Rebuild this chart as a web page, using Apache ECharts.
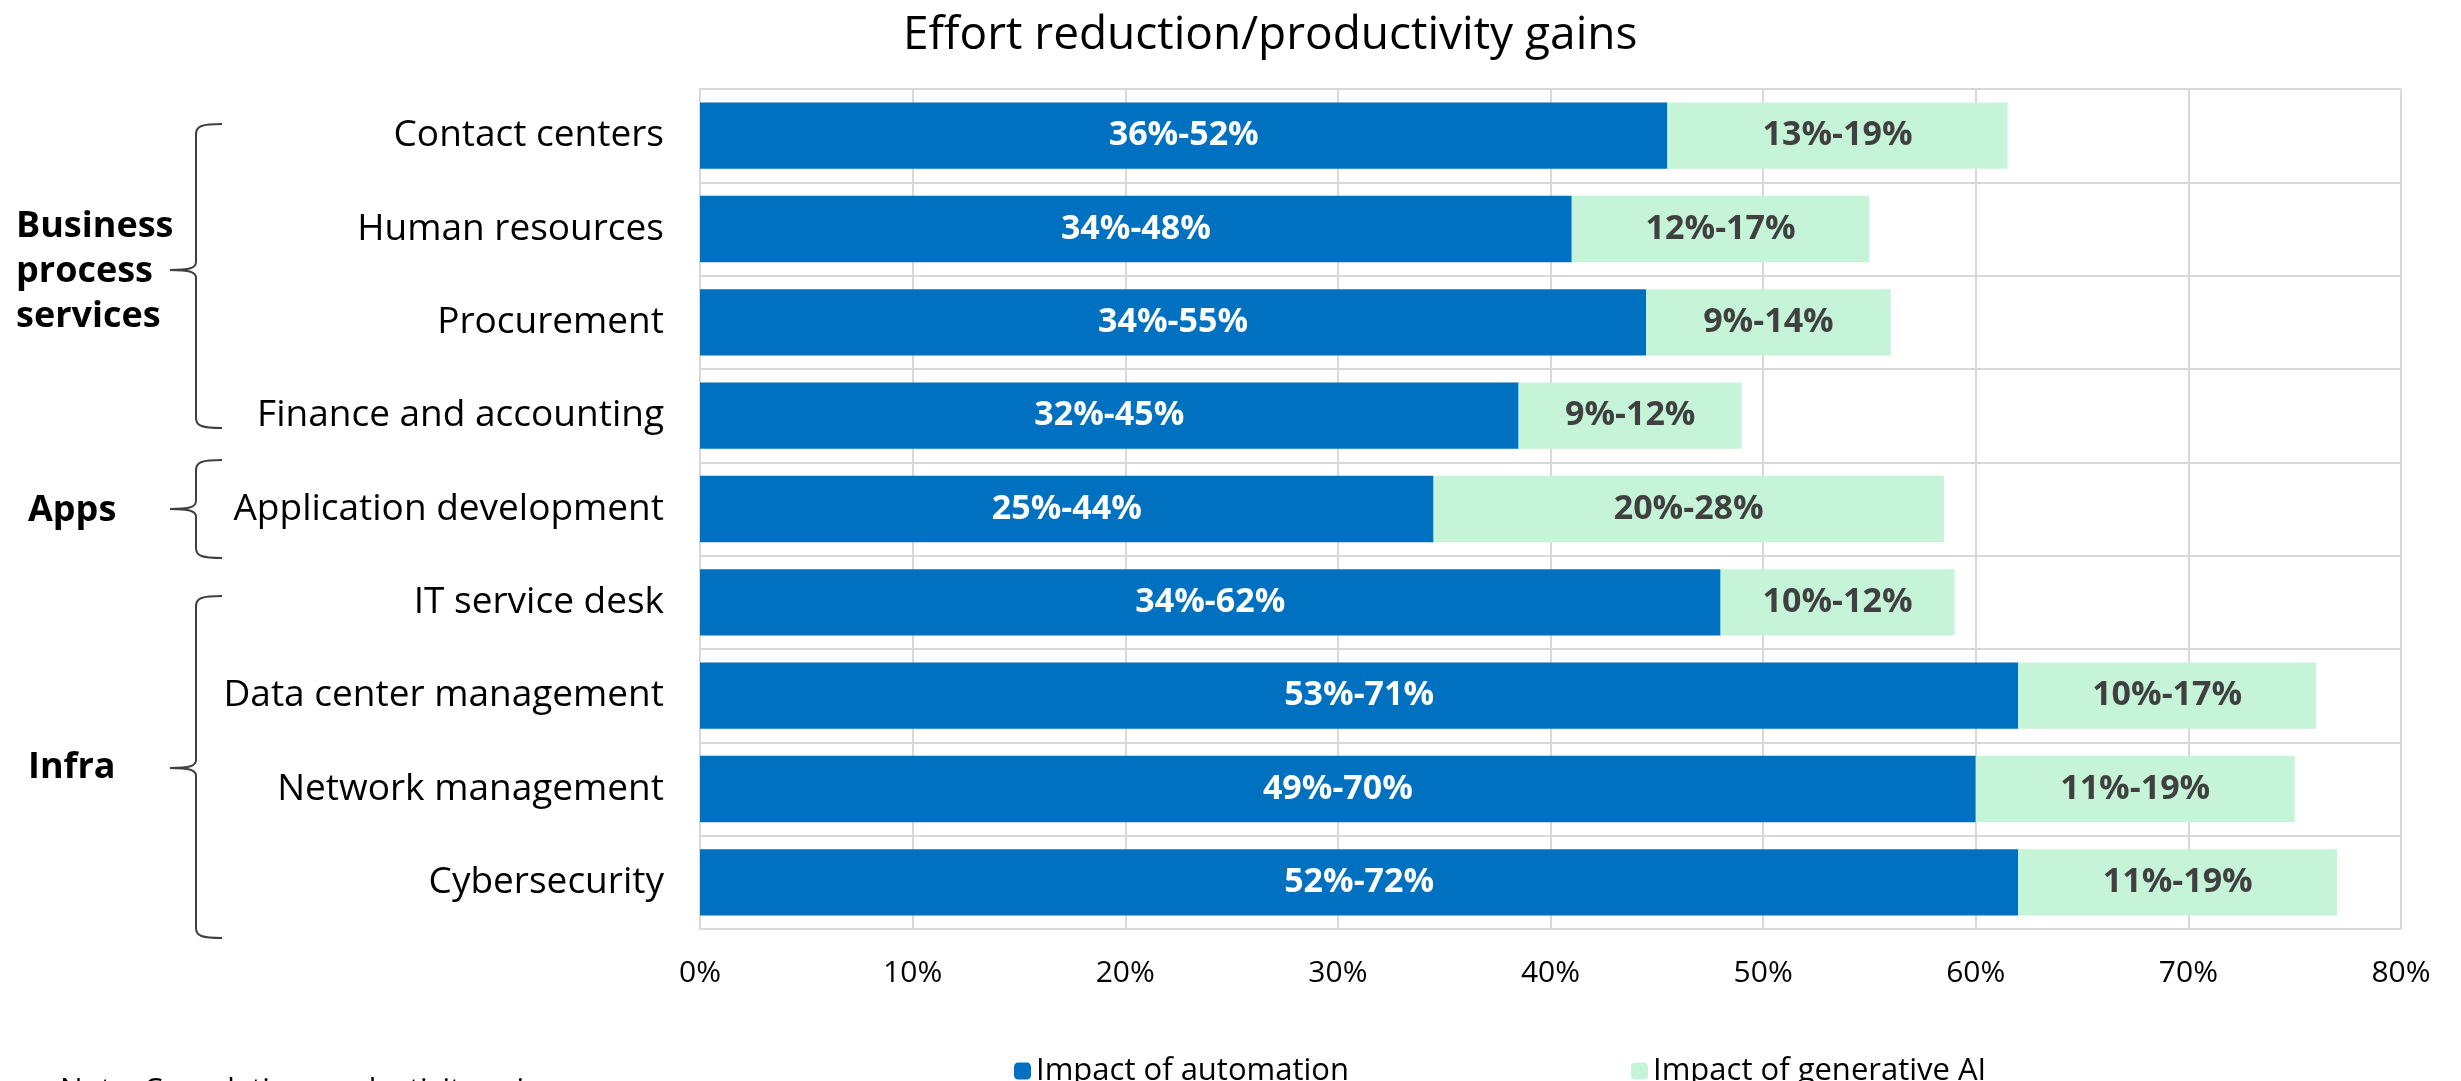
<!DOCTYPE html>
<html>
<head>
<meta charset="utf-8">
<script src="https://cdn.jsdelivr.net/npm/echarts@6/dist/echarts.min.js"></script>
<style>
html,body{margin:0;padding:0;background:#fff;}
#chart{width:2461px;height:1081px;}
</style>
</head>
<body>
<div id="chart"></div>
<script>
const titleText = 'Effort reduction/productivity gains';
const categories = ['Contact centers','Human resources','Procurement','Finance and accounting','Application development','IT service desk','Data center management','Network management','Cybersecurity'];
const automation = [45.5, 41, 44.5, 38.5, 34.5, 48, 62, 60, 62];
const genAI = [16, 14, 11.5, 10.5, 24, 11, 14, 15, 15];
const automationLabels = ['36%-52%','34%-48%','34%-55%','32%-45%','25%-44%','34%-62%','53%-71%','49%-70%','52%-72%'];
const genAILabels = ['13%-19%','12%-17%','9%-14%','9%-12%','20%-28%','10%-12%','10%-17%','11%-19%','11%-19%'];
const seriesNames = ['Impact of automation','Impact of generative AI'];
const groupNames = ['Business\nprocess\nservices','Apps','Infra'];
const noteText = 'Note: Cumulative productivity gains';

const FONT = '"Open Sans", "Noto Sans", sans-serif';
const BLUE = '#0070C0';
const GREEN = '#C6F4D8';
const GRID = '#D9D9D9';
const BRACE = '#404040';

const chart = echarts.init(document.getElementById('chart'), null, {renderer:'canvas'});

function brace(top, bottom, tip) {
  const xv = 196, xe = 222, xt = 170;
  const st = {stroke: BRACE, lineWidth: 2, fill: null};
  return [
    {type: 'bezierCurve', shape: {x1: xe, y1: top, x2: xv, y2: top + 10, cpx1: xv + 6, cpy1: top, cpx2: xv, cpy2: top + 2}, style: st},
    {type: 'line', shape: {x1: xv, y1: top + 10, x2: xv, y2: tip - 8}, style: st},
    {type: 'bezierCurve', shape: {x1: xv, y1: tip - 8, x2: xt, y2: tip, cpx1: xv, cpy1: tip - 2, cpx2: xv - 6, cpy2: tip}, style: st},
    {type: 'bezierCurve', shape: {x1: xt, y1: tip, x2: xv, y2: tip + 8, cpx1: xv - 6, cpy1: tip, cpx2: xv, cpy2: tip + 2}, style: st},
    {type: 'line', shape: {x1: xv, y1: tip + 8, x2: xv, y2: bottom - 10}, style: st},
    {type: 'bezierCurve', shape: {x1: xv, y1: bottom - 10, x2: xe, y2: bottom, cpx1: xv, cpy1: bottom - 2, cpx2: xv + 6, cpy2: bottom}, style: st}
  ];
}

const graphics = []
  .concat(brace(124, 428, 270))
  .concat(brace(460, 558, 509))
  .concat(brace(596, 938, 768))
  .concat([
    {type: 'text', left: 16, top: 204, style: {text: groupNames[0], font: 'bold 36px ' + FONT, fill: '#000', lineHeight: 45}},
    {type: 'text', left: 28, top: 493, style: {text: groupNames[1], font: 'bold 36px ' + FONT, fill: '#000'}},
    {type: 'text', left: 28, top: 750, style: {text: groupNames[2], font: 'bold 36px ' + FONT, fill: '#000'}},
    {type: 'text', left: 60, top: 1075, style: {text: noteText, font: '30px ' + FONT, fill: '#000'}}
  ]);

const option = {
  backgroundColor: '#fff',
  animation: false,
  title: {
    text: titleText,
    left: 898,
    top: 8,
    textStyle: {fontFamily: FONT, fontSize: 46, fontWeight: 'normal', color: '#000'}
  },
  legend: [
    {
      data: [seriesNames[0]], left: 1009, top: 1050,
      itemWidth: 17, itemHeight: 17, itemGap: 0,
      textStyle: {fontFamily: FONT, fontSize: 31, color: '#000', lineHeight: 32}
    },
    {
      data: [seriesNames[1]], left: 1626, top: 1050,
      itemWidth: 17, itemHeight: 17, itemGap: 0,
      textStyle: {fontFamily: FONT, fontSize: 31, color: '#000', lineHeight: 32}
    }
  ],
  grid: {left: 700, right: 60, top: 89, bottom: 152, containLabel: false},
  xAxis: {
    type: 'value', min: 0, max: 80, interval: 10,
    axisLine: {show: false}, axisTick: {show: false},
    splitLine: {show: true, lineStyle: {color: GRID, width: 2}},
    axisLabel: {formatter: '{value}%', fontFamily: FONT, fontSize: 30, color: '#000', margin: 29, lineHeight: 30}
  },
  yAxis: {
    type: 'category', data: categories, inverse: true,
    axisLine: {show: true, lineStyle: {color: GRID, width: 2}},
    axisTick: {show: false},
    splitLine: {show: true, lineStyle: {color: GRID, width: 2}},
    axisLabel: {fontFamily: FONT, fontSize: 37, color: '#000', margin: 36}
  },
  series: [
    {
      name: seriesNames[0], type: 'bar', stack: 'total', data: automation,
      barCategoryGap: '29%',
      itemStyle: {color: BLUE},
      label: {
        show: true, position: 'inside',
        formatter: p => automationLabels[p.dataIndex],
        fontFamily: FONT, fontSize: 34, fontWeight: 'bold', color: '#fff'
      }
    },
    {
      name: seriesNames[1], type: 'bar', stack: 'total', data: genAI,
      barCategoryGap: '29%',
      itemStyle: {color: GREEN},
      label: {
        show: true, position: 'inside',
        formatter: p => genAILabels[p.dataIndex],
        fontFamily: FONT, fontSize: 34, fontWeight: 'bold', color: '#404040'
      }
    }
  ],
  graphic: graphics
};
chart.setOption(option);
</script>
</body>
</html>
